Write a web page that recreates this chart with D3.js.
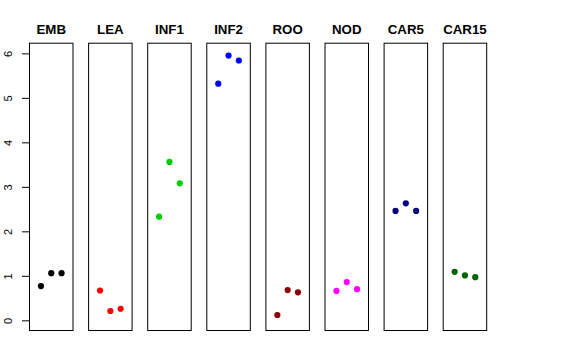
<!DOCTYPE html>
<html><head><meta charset="utf-8">
<script src="https://cdn.jsdelivr.net/npm/d3@7"></script>
<style>body{margin:0;background:#fff}svg{display:block}</style>
</head><body>
<script>
const categories = ["EMB","LEA","INF1","INF2","ROO","NOD","CAR5","CAR15"];
const colors = ["#000000","#FF0000","#00CD00","#0000FF","#8B0000","#FF00FF","#000080","#006400"];
const rep1 = [0.77, 0.67, 2.33, 5.32, 0.12, 0.66, 2.46, 1.09];
const rep2 = [1.06, 0.21, 3.56, 5.95, 0.68, 0.86, 2.63, 1.01];
const rep3 = [1.06, 0.26, 3.08, 5.84, 0.63, 0.70, 2.46, 0.97];
const yTicks = [0,1,2,3,4,5,6];

const W = 576, H = 360;
const svg = d3.select("body").append("svg").attr("width", W).attr("height", H);

const panelW = 44.5;
const panelLeft = d3.scaleLinear().domain([0, 7]).range([29, 442.7]);
const y = d3.scaleLinear().domain([-0.24, 6.24]).range([331, 42.7]);
const xIn = d3.scaleLinear().domain([-0.16, 4.16]).range([0, panelW]);

categories.forEach((cat, i) => {
  const g = svg.append("g").attr("transform", `translate(${panelLeft(i)},0)`);
  g.append("rect")
    .attr("x", 0.5).attr("y", y(6.24) + 0.5)
    .attr("width", panelW - 1).attr("height", y(-0.24) - y(6.24) - 1)
    .attr("fill", "none").attr("stroke", "#000").attr("stroke-width", 1);
  g.append("text")
    .attr("x", panelW / 2).attr("y", 34)
    .attr("text-anchor", "middle")
    .attr("font-family", "Liberation Sans, Arial, sans-serif")
    .attr("font-weight", "bold").attr("font-size", 13.3)
    .text(cat);
  const vals = [rep1[i], rep2[i], rep3[i]];
  g.selectAll("circle").data(vals).enter().append("circle")
    .attr("cx", (d, j) => xIn(j + 1))
    .attr("cy", d => y(d))
    .attr("r", 3.1)
    .attr("fill", colors[i]);
});

const axis = d3.axisLeft(y).tickValues(yTicks).tickSize(7.5).tickPadding(5).tickFormat(d3.format("d"));
const ag = svg.append("g").attr("transform", `translate(${panelLeft(0) + 0.5},0)`).call(axis);
ag.selectAll(".domain").attr("d", `M0,${y(0)}V${y(6)}`).attr("stroke", "#000");
ag.selectAll("line").attr("stroke", "#000");
ag.selectAll("text")
  .attr("font-family", "Liberation Sans, Arial, sans-serif")
  .attr("font-size", 11)
  .attr("fill", "#000")
  .attr("text-anchor", "middle")
  .attr("dy", null)
  .attr("x", null)
  .attr("transform", `translate(-21.3,0) rotate(-90)`)
  .attr("y", 3.8);
</script>
</body></html>
